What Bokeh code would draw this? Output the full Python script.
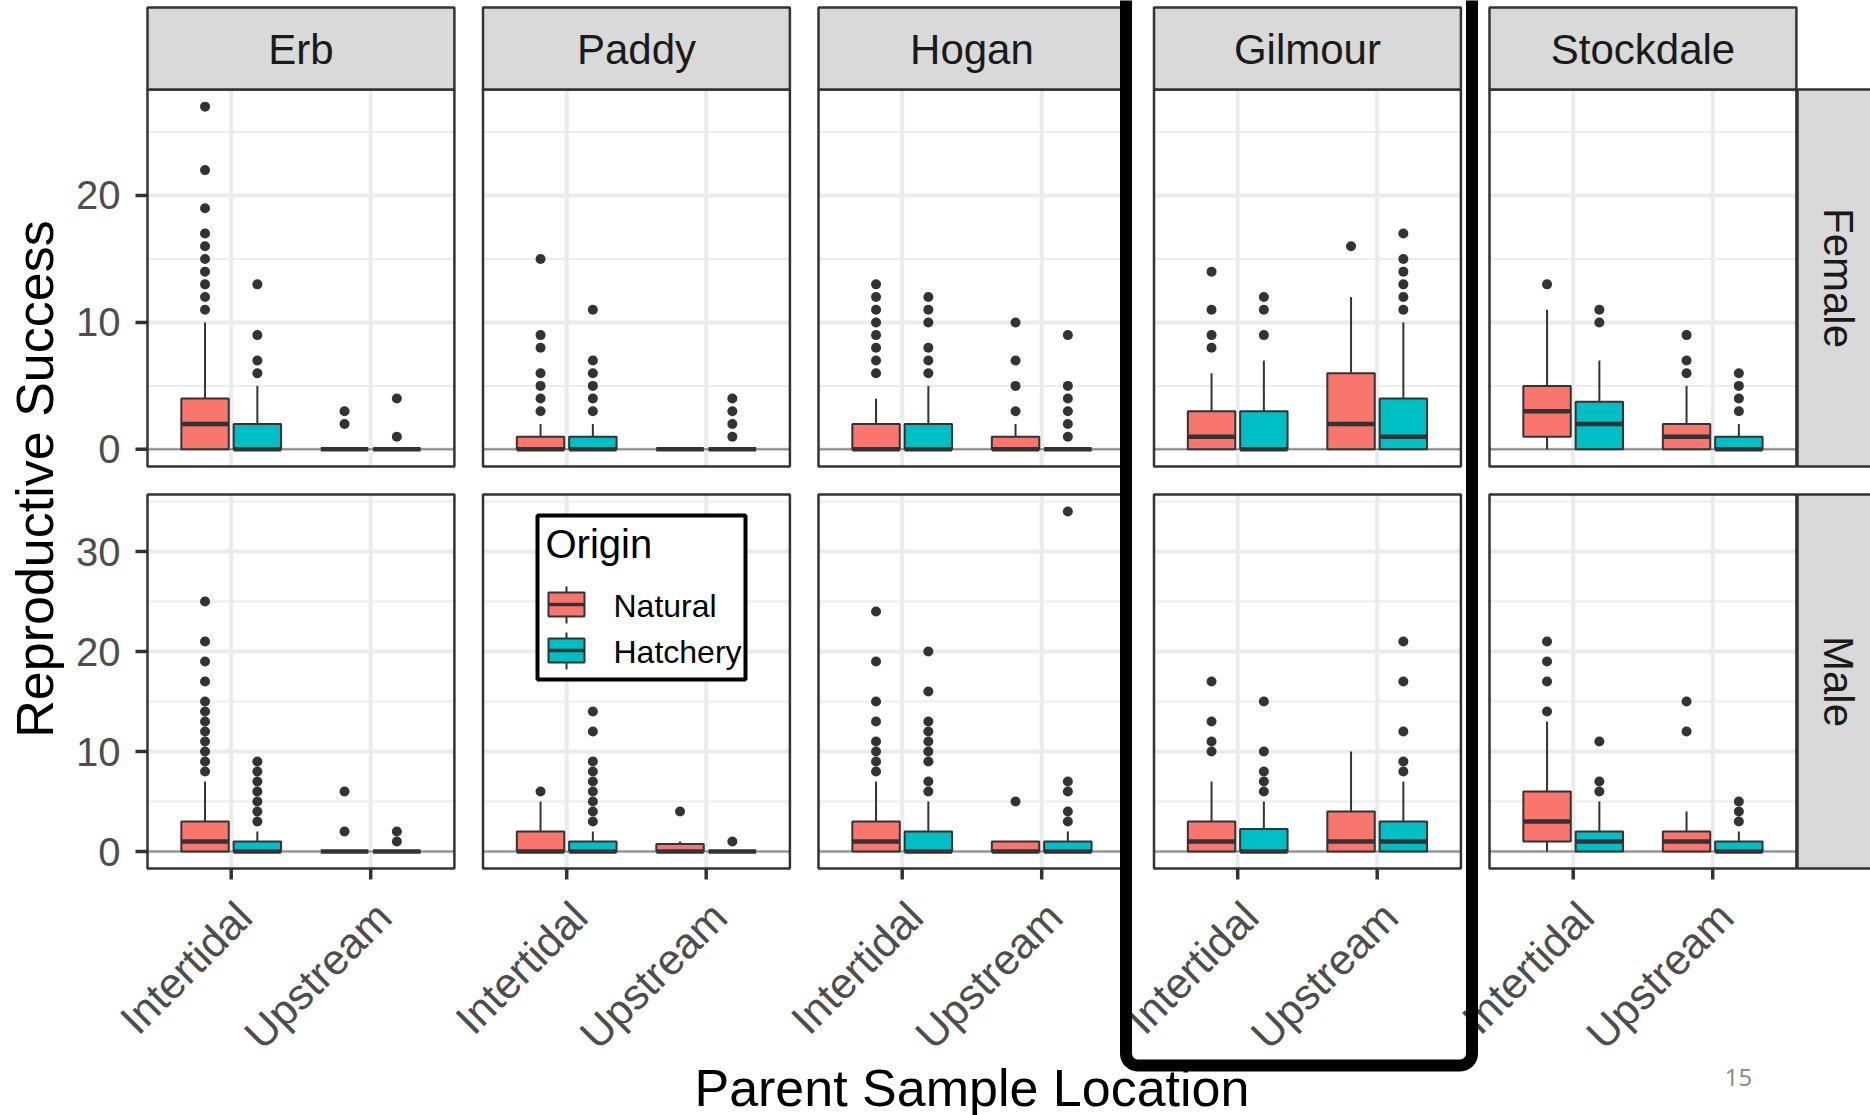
import numpy as np
from bokeh.plotting import figure
from bokeh.models import Range1d
from bokeh.embed import file_html
from bokeh.resources import INLINE
from bokeh.core.properties import value

# ---------------------------------------------------------------- data
sites = ["Erb", "Paddy", "Hogan", "Gilmour", "Stockdale"]
locations = ["Intertidal", "Upstream"]
origins = ["Natural", "Hatchery"]
sexes = ["Female", "Male"]
origin_colors = ["#F8766D", "#00BFC4"]

# box statistics, ordered site -> location -> origin (20 boxes per sex)
female_lower = [0, 0, 0, 0, 0, 0, 0, 0, 0, 0, 0, 0, 0, 0, 0, 0, 0, 0, 0, 0]
female_q1 = [0, 0, 0, 0, 0, 0, 0, 0, 0, 0, 0, 0, 0, 0, 0, 0, 1, 0, 0, 0]
female_median = [2, 0, 0, 0, 0, 0, 0, 0, 0, 0, 0, 0, 1, 0, 2, 1, 3, 2, 1, 0]
female_q3 = [4, 2, 0, 0, 1, 1, 0, 0, 2, 2, 1, 0, 3, 3, 6, 4, 5, 3.75, 2, 1]
female_upper = [10, 5, 0, 0, 2, 2, 0, 0, 4, 5, 2, 0, 6, 7, 12, 10, 11, 7, 5, 2]
female_outliers = [
    [11, 12, 13, 14, 15, 16, 17, 19, 22, 27], [6, 7, 9, 13], [2, 3], [1, 4],
    [3, 4, 5, 6, 8, 9, 15], [3, 4, 5, 6, 7, 11], [], [1, 2, 3, 4],
    [6, 7, 8, 9, 10, 11, 12, 13], [6, 7, 8, 10, 11, 12], [3, 5, 7, 10], [1, 2, 3, 4, 5, 9],
    [8, 9, 11, 14], [9, 11, 12], [16], [11, 12, 13, 14, 15, 17],
    [13], [10, 11], [6, 7, 9], [3, 4, 5, 6],
]

male_lower = [0, 0, 0, 0, 0, 0, 0, 0, 0, 0, 0, 0, 0, 0, 0, 0, 0, 0, 0, 0]
male_q1 = [0, 0, 0, 0, 0, 0, 0, 0, 0, 0, 0, 0, 0, 0, 0, 0, 1, 0, 0, 0]
male_median = [1, 0, 0, 0, 0, 0, 0, 0, 1, 0, 0, 0, 1, 0, 1, 1, 3, 1, 1, 0]
male_q3 = [3, 1, 0, 0, 2, 1, 0.75, 0, 3, 2, 1, 1, 3, 2.25, 4, 3, 6, 2, 2, 1]
male_upper = [7, 2, 0, 0, 5, 2, 1, 0, 7, 5, 1, 2, 7, 5, 10, 7, 13, 5, 4, 2]
male_outliers = [
    [8, 9, 10, 11, 12, 13, 14, 15, 17, 19, 21, 25], [3, 4, 5, 6, 7, 8, 9], [2, 6], [1, 2],
    [6], [3, 4, 5, 6, 7, 8, 9, 12, 14], [4], [1],
    [8, 9, 10, 11, 13, 15, 19, 24], [6, 7, 9, 10, 11, 12, 13, 16, 20], [5], [3, 4, 6, 7, 34],
    [10, 11, 13, 17], [6, 7, 8, 10, 15], [], [8, 9, 12, 17, 21],
    [14, 17, 19, 21], [6, 7, 11], [12, 15], [3, 4, 5],
]

female_ticks = [0, 10, 20]
male_ticks = [0, 10, 20, 30]

# ---------------------------------------------------------------- layout
W, H = 1870, 1115
FONT = "Liberation Sans"
X_PX = 139.5                 # pixels per category unit
PANEL_X0 = 147               # left edge of first panel
PITCH = 335.5                # panel to panel distance
P = PITCH / X_PX             # panel pitch in category units
LOC_LO, LOC_HI = 0.4, 2.6    # discrete axis limits inside a panel
ROW_TOP = [89, 494]
ROW_BOT = [466, 868]
STRIP_TOP = 7
STRIP_RIGHT_X = (1797, 1879)
DODGE = 0.375
BOX_W = 0.34
DARK = "#333333"

x_start = LOC_LO - PANEL_X0 / X_PX
p = figure(width=W, height=H,
           x_range=Range1d(x_start, x_start + W / X_PX),
           y_range=Range1d(H, 0),
           output_backend="svg", toolbar_location=None, min_border=0,
           x_axis_location=None, y_axis_location=None,
           outline_line_color=None, background_fill_color="white",
           border_fill_color="white")
p.grid.visible = False
p.extra_x_ranges = {"page": Range1d(0, W)}

rows = [
    ("female", female_lower, female_q1, female_median, female_q3, female_upper,
     female_outliers, female_ticks),
    ("male", male_lower, male_q1, male_median, male_q3, male_upper,
     male_outliers, male_ticks),
]

row_limits = []
for r, (name, lo, q1, med, q3, hi, outs, ticks) in enumerate(rows):
    ymax = max(max(hi), max(max(o) for o in outs if o))
    pad = 0.05 * ymax
    lim = (-pad, ymax + pad)
    scale = (ROW_BOT[r] - ROW_TOP[r]) / (lim[1] - lim[0])
    p.extra_y_ranges[name] = Range1d(lim[0] - (H - ROW_BOT[r]) / scale,
                                     lim[1] + ROW_TOP[r] / scale)
    row_limits.append(lim)

panel_left = [i * P + LOC_LO for i in range(len(sites))]
panel_right = [i * P + LOC_HI for i in range(len(sites))]

for r, (name, lo, q1, med, q3, hi, outs, ticks) in enumerate(rows):
    lim = row_limits[r]
    # panel background
    p.quad(left=panel_left, right=panel_right, bottom=[lim[0]] * 5, top=[lim[1]] * 5,
           fill_color="white", line_color=None, y_range_name=name)
    # grid lines
    majors = [t for t in range(0, int(lim[1]) + 1, 10)]
    minors = [t + 5 for t in range(0, int(lim[1]) + 1, 10) if t + 5 < lim[1]]
    for i in range(len(sites)):
        p.segment(x0=[panel_left[i]] * len(minors), x1=[panel_right[i]] * len(minors),
                  y0=minors, y1=minors, line_color="#EDEDED", line_width=2,
                  y_range_name=name)
        p.segment(x0=[panel_left[i]] * len(majors), x1=[panel_right[i]] * len(majors),
                  y0=majors, y1=majors, line_color="#EBEBEB", line_width=4,
                  y_range_name=name)
        gx = [i * P + j + 1 for j in range(len(locations))]
        p.segment(x0=gx, x1=gx, y0=[lim[0]] * 2, y1=[lim[1]] * 2,
                  line_color="#EBEBEB", line_width=4, y_range_name=name)
    # zero reference line
    p.segment(x0=panel_left, x1=panel_right, y0=[0] * 5, y1=[0] * 5,
              line_color="#8A8A8A", line_width=2, y_range_name=name)

    # boxes
    bx, colors = [], []
    for i in range(len(sites)):
        for j in range(len(locations)):
            for k in range(len(origins)):
                bx.append(i * P + j + 1 + (k - 0.5) * DODGE)
                colors.append(origin_colors[k])
    p.segment(x0=bx, x1=bx, y0=q3, y1=hi, line_color=DARK, line_width=2,
              y_range_name=name)
    p.segment(x0=bx, x1=bx, y0=q1, y1=lo, line_color=DARK, line_width=2,
              y_range_name=name)
    p.vbar(x=bx, width=BOX_W, bottom=q1, top=q3, fill_color=colors,
           line_color=DARK, line_width=2, y_range_name=name)
    p.segment(x0=[x - BOX_W / 2 for x in bx], x1=[x + BOX_W / 2 for x in bx],
              y0=med, y1=med, line_color=DARK, line_width=4.5, y_range_name=name)
    ox, oy = [], []
    for x, o in zip(bx, outs):
        ox += [x] * len(o)
        oy += o
    p.scatter(x=ox, y=oy, marker="circle", size=10, fill_color=DARK,
              line_color=None, y_range_name=name)

    # panel borders
    p.quad(left=panel_left, right=panel_right, bottom=[lim[0]] * 5, top=[lim[1]] * 5,
           fill_color=None, line_color=DARK, line_width=2.5, y_range_name=name)

    # y axis ticks and labels
    p.segment(x0=[135] * len(ticks), x1=[147] * len(ticks), y0=ticks, y1=ticks,
              line_color=DARK, line_width=3.5, x_range_name="page", y_range_name=name)
    p.text(x=[120] * len(ticks), y=ticks, text=[str(t) for t in ticks],
           text_font=value(FONT), text_font_size="40px", text_color="#4D4D4D",
           text_align="right", text_baseline="middle",
           x_range_name="page", y_range_name=name)

    # sex strip on the right
    p.quad(left=[STRIP_RIGHT_X[0]], right=[STRIP_RIGHT_X[1]], bottom=[lim[0]], top=[lim[1]],
           fill_color="#D9D9D9", line_color=DARK, line_width=2.5,
           x_range_name="page", y_range_name=name)
    p.text(x=[(STRIP_RIGHT_X[0] + STRIP_RIGHT_X[1]) / 2], y=[(lim[0] + lim[1]) / 2],
           text=[sexes[r]], angle=-np.pi / 2, text_font=value(FONT),
           text_font_size="42px", text_color="#1A1A1A", text_align="center",
           text_baseline="middle", x_range_name="page", y_range_name=name)

# site strips along the top
p.quad(left=panel_left, right=panel_right, bottom=[ROW_TOP[0]] * 5, top=[STRIP_TOP] * 5,
       fill_color="#D9D9D9", line_color=DARK, line_width=2.5)
p.text(x=[(a + b) / 2 for a, b in zip(panel_left, panel_right)],
       y=[(STRIP_TOP + ROW_TOP[0]) / 2 + 1] * 5, text=sites,
       text_font=value(FONT), text_font_size="42px", text_color="#1A1A1A",
       text_align="center", text_baseline="middle")

# x axis ticks and rotated category labels
tx = [i * P + j + 1 for i in range(len(sites)) for j in range(len(locations))]
tl = [loc for _ in sites for loc in locations]
p.segment(x0=tx, x1=tx, y0=[ROW_BOT[1]] * len(tx), y1=[ROW_BOT[1] + 11] * len(tx),
          line_color=DARK, line_width=3.5)
p.text(x=[t - 4 / X_PX for t in tx], y=[ROW_BOT[1] + 24] * len(tx), text=tl,
       angle=np.pi / 4, text_font=value(FONT), text_font_size="43px",
       text_color="#4D4D4D", text_align="right", text_baseline="top")

# axis titles
p.text(x=[34], y=[(ROW_TOP[0] + ROW_BOT[1]) / 2], text=["Reproductive Success"],
       angle=np.pi / 2, text_font=value(FONT), text_font_size="52px",
       text_color="black", text_align="center", text_baseline="middle",
       x_range_name="page")
p.text(x=[(panel_left[0] + panel_right[-1]) / 2], y=[1087], text=["Parent Sample Location"],
       text_font=value(FONT), text_font_size="52px", text_color="black",
       text_align="center", text_baseline="alphabetic")

# legend
p.quad(left=[537], right=[745], top=[515], bottom=[679], fill_color="white",
       line_color="black", line_width=4, x_range_name="page")
p.text(x=[545], y=[543], text=["Origin"], text_font=value(FONT), text_font_size="40px",
       text_color="black", text_align="left", text_baseline="middle",
       x_range_name="page")
key_y = [604, 650]
for k, name in enumerate(origins):
    cy = key_y[k]
    p.segment(x0=[566, 566], x1=[566, 566], y0=[cy - 18, cy + 12], y1=[cy - 12, cy + 19],
              line_color=DARK, line_width=2, x_range_name="page")
    p.quad(left=[548], right=[584], top=[cy - 12], bottom=[cy + 12],
           fill_color=origin_colors[k], line_color=DARK, line_width=2,
           x_range_name="page")
    p.segment(x0=[548], x1=[584], y0=[cy], y1=[cy], line_color=DARK, line_width=3.5,
              x_range_name="page")
    p.text(x=[613], y=[cy + 1], text=[name], text_font=value(FONT),
           text_font_size="32px", text_color="black", text_align="left",
           text_baseline="middle", x_range_name="page")

# highlight frame around the Gilmour column
def rounded_u(xl, xr, yb, ytop, rad, n=10):
    t = np.linspace(0, np.pi / 2, n)
    xs = [xl] + list(xl + rad - rad * np.cos(t)) + list(xr - rad + rad * np.sin(t)) + [xr]
    ys = [ytop] + list(yb - rad + rad * np.sin(t)) + list(yb - rad + rad * np.cos(t)) + [ytop]
    return xs, ys

hx, hy = rounded_u(1125.5, 1471.5, 1065, -20, 12)
p.line(x=hx, y=hy, line_color="black", line_width=12, line_join="round",
       x_range_name="page")

# slide number
p.text(x=[1738], y=[1077], text=["15"], text_font=value("Noto Sans"),
       text_font_size="24px", text_color="#8C8C8C", text_align="center",
       text_baseline="middle", x_range_name="page")

open("out.html", "w").write(file_html(p, INLINE))
